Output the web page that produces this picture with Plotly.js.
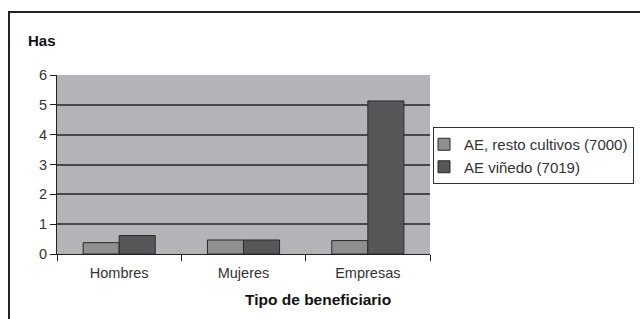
<!DOCTYPE html>
<html>
<head>
<meta charset="utf-8">
<script src="https://cdn.plot.ly/plotly-3.0.1.min.js"></script>
<style>
html,body{margin:0;padding:0;background:#fff;}
#wrap{position:relative;width:640px;height:319px;overflow:hidden;}
#chart{position:absolute;left:0;top:0;width:640px;height:319px;}
#frame{position:absolute;left:8px;top:11px;width:700px;height:400px;border-left:2px solid #222;border-top:2px solid #222;pointer-events:none;}
</style>
</head>
<body>
<div id="wrap"><div id="chart"></div><div id="frame"></div></div>
<script>
const categories = ["Hombres", "Mujeres", "Empresas"];
const seriesNames = ["AE, resto cultivos (7000)", "AE viñedo (7019)"];
const restoCultivos = [0.38, 0.47, 0.45];
const vinedo = [0.62, 0.47, 5.13];
const yTicks = [0, 1, 2, 3, 4, 5, 6];
const yTitle = "Has";
const xTitle = "Tipo de beneficiario";

const font = "Liberation Sans, Arial, sans-serif";
const traces = [
  {type: "bar", name: seriesNames[0], x: categories, y: restoCultivos,
   marker: {color: "#8f8f91", line: {color: "#2a2a2a", width: 1}}},
  {type: "bar", name: seriesNames[1], x: categories, y: vinedo,
   marker: {color: "#57575a", line: {color: "#2a2a2a", width: 1}}}
];
const plotL = 57, plotR = 430, plotT = 75, plotB = 254;
const pw = plotR - plotL, ph = plotB - plotT;
const layout = {
  width: 640, height: 319,
  margin: {l: plotL, r: 640 - plotR, t: plotT, b: 319 - plotB, autoexpand: false},
  paper_bgcolor: "#ffffff",
  plot_bgcolor: "#b4b4b8",
  barmode: "group",
  bargap: 0.42,
  bargroupgap: 0,
  font: {family: font, size: 14, color: "#333"},
  showlegend: true,
  legend: {x: (433 - plotL) / pw, y: (plotB - 127) / ph, xanchor: "left", yanchor: "top",
           bordercolor: "#333", borderwidth: 1, bgcolor: "#fff",
           font: {family: font, size: 15, color: "#333"},
           itemwidth: 30, indentation: -10, tracegroupgap: 0},
  xaxis: {type: "category", tickson: "boundaries", ticks: "outside", ticklen: 6,
          tickcolor: "#222", showgrid: false, showline: true, linecolor: "#222",
          linewidth: 1, ticklabelstandoff: 6,
          tickfont: {family: font, size: 14.5, color: "#333"}},
  yaxis: {range: [0, 6], tickvals: yTicks, ticktext: yTicks.map(String),
          ticks: "outside", ticklen: 6, tickcolor: "#222",
          showgrid: true, gridcolor: "#48484a", gridwidth: 2,
          showline: true, linecolor: "#222", linewidth: 1, zeroline: false,
          tickfont: {family: font, size: 14.5, color: "#333"}},
  annotations: [
    {text: "<b>" + yTitle + "</b>", xref: "paper", yref: "paper",
     x: (26 - plotL) / pw, y: (plotB - 40) / ph, xanchor: "left", yanchor: "middle",
     showarrow: false, font: {family: font, size: 15, color: "#111"}},
    {text: "<b>" + xTitle + "</b>", xref: "paper", yref: "paper",
     x: (318 - plotL) / pw, y: (plotB - 299) / ph, xanchor: "center", yanchor: "middle",
     showarrow: false, font: {family: font, size: 15.5, color: "#111"}}
  ]
};
Plotly.newPlot("chart", traces, layout, {staticPlot: true, displayModeBar: false});
</script>
</body>
</html>
